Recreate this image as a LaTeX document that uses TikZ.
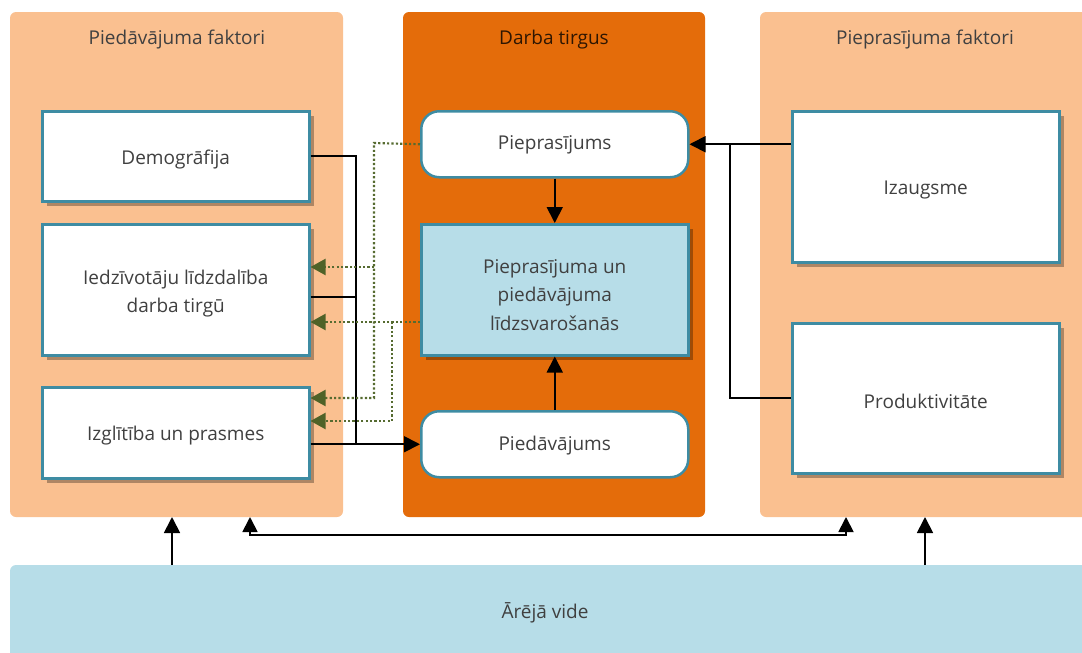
\documentclass[tikz,border=0pt]{standalone}
\usepackage{fontspec}
\setmainfont{Open Sans}
\usetikzlibrary{arrows.meta,shadows}
\definecolor{peach}{HTML}{FAC090}
\definecolor{orng}{HTML}{E46C0A}
\definecolor{lblue}{HTML}{B7DDE8}
\definecolor{bordc}{HTML}{3E8CA3}
\definecolor{tipgreen}{HTML}{4F6228}
\definecolor{dotc}{HTML}{566B30}
\definecolor{txt}{HTML}{404040}
\begin{document}
\begin{tikzpicture}[x=1pt,y=-1pt,
  font=\fontsize{19}{28.5}\selectfont,
  panel/.style={rounded corners=6pt, draw=none},
  ttl/.style={text=txt, inner sep=0},
  lbl/.style={text=txt, inner sep=0, align=center},
  shad/.style={drop shadow={shadow xshift=5pt, shadow yshift=-5pt, fill=black, opacity=0.3}},
  fbox/.style={draw=bordc, line width=2.5pt, fill=white, inner sep=0,
    anchor=north west, minimum width=267pt},
  rbox/.style={fbox, rounded corners=18pt},
  conn/.style={line width=1.8pt, -{Triangle[length=16pt,width=16pt]}},
  plain/.style={line width=1.8pt},
  dotl/.style={dotc, line width=2.2pt, dash pattern=on 2.2pt off 2.2pt},
  garrow/.style={dotl, -{Triangle[length=15pt,width=16pt,color=tipgreen,fill=tipgreen]}}
]
\useasboundingbox (0,0) rectangle (1082,653);
% panels
\fill[panel, peach] (10,12) rectangle (343,517);
\fill[panel, orng] (403,12) rectangle (705,517);
\fill[panel, peach] (760,12) rectangle (1095,517);
\fill[panel, lblue] (10,565) rectangle (1095,665);
\node[ttl] (t1) at (177,40) {Piedāvājuma faktori};
\node[ttl, text=black!80!orng] (t2) at (554,40) {Darba tirgus};
\node[ttl] (t3) at (925,40) {Pieprasījuma faktori};
\node[ttl] (vide) at (545,613) {Ārējā vide};
\coordinate (videtop) at (545,565);
% left boxes
\node[fbox, shad, minimum height=90pt] (demo) at (41,110) {};
\node[fbox, shad, minimum height=131pt] (iedz) at (41,223) {};
\node[fbox, shad, minimum height=91pt] (izgl) at (41,386) {};
% middle boxes
\node[rbox, minimum height=66pt] (piepr) at (420,110) {};
\node[fbox, shad, fill=lblue, minimum height=131pt] (lidz) at (420,223) {};
\node[rbox, minimum height=66pt] (pied) at (420,410) {};
% right boxes
\node[fbox, shad, minimum height=151pt] (izaug) at (791,110) {};
\node[fbox, shad, minimum height=150pt] (prod) at (791,322) {};
% box texts
\node[lbl] (demoT) at ([yshift=-3pt]demo.center) {Demogrāfija};
\node[lbl] (iedzT) at ([yshift=-4pt]iedz.center) {Iedzīvotāju līdzdalība\\darba tirgū};
\node[lbl] (izglT) at ([yshift=-3pt]izgl.center) {Izglītība un prasmes};
\node[lbl] (pieprT) at ([yshift=-1pt]piepr.center) {Pieprasījums};
\node[lbl] (lidzT) at ([yshift=-5pt]lidz.center) {Pieprasījuma un\\piedāvājuma\\līdzsvarošanās};
\node[lbl] (piedT) at ([yshift=-1pt]pied.center) {Piedāvājums};
\node[lbl] (izaugT) at ([yshift=-3pt]izaug.center) {Izaugsme};
\node[lbl] (prodT) at ([yshift=-3pt]prod.center) {Produktivitāte};
% left to middle
\coordinate (jl) at (356,443);
\draw[plain] (demo.east) -| (jl);
\draw[plain] ([yshift=-7pt]iedz.east) -- ([yshift=-7pt]iedz.east -| jl);
\draw[conn] (izgl.east |- pied.west) -- (pied.west);
% middle vertical
\draw[conn] (piepr.south) -- (lidz.north);
\draw[conn] (pied.north) -- (lidz.south);
% right to middle
\coordinate (jr) at (730,143);
\draw[conn] (izaug.west |- piepr.east) -- (piepr.east);
\draw[plain] (prod.west) -| (jr);
% dotted feedback
\coordinate (d1) at (374,143);
\coordinate (d2) at (374,398);
\coordinate (d3) at (374,267);
\coordinate (d4) at (392,322);
\coordinate (d5) at (392,421);
\coordinate (d6) at (420,322);
\draw[garrow] (piepr.west) -- (d1) -- (d2) -- (d2 -| izgl.east);
\draw[garrow] (d3) -- (d3 -| iedz.east);
\draw[garrow] (d6) -- (d6 -| iedz.east);
\draw[garrow] (d4) -- (d5) -- (d5 -| izgl.east);
% bottom
\coordinate (b1) at (172,517);
\coordinate (b2) at (925,517);
\coordinate (b3) at (250,517);
\coordinate (b4) at (846,517);
\draw[conn] (videtop -| b1) -- (b1);
\draw[conn] (videtop -| b2) -- (b2);
\draw[line width=1.8pt, {Triangle[length=15pt,width=15pt]}-{Triangle[length=15pt,width=15pt]}]
  (b3) -- ++(0,18) -| (b4);
\end{tikzpicture}
\end{document}
